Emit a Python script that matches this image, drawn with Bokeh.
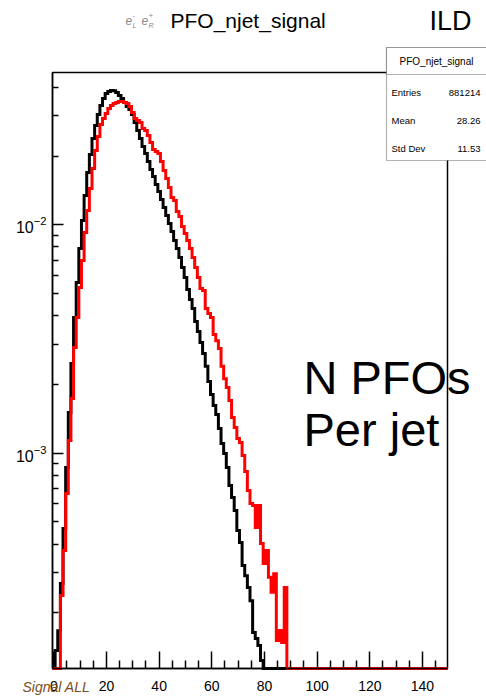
import numpy as np
from bokeh.plotting import figure
from bokeh.models import Range1d, FixedTicker, Label, BoxAnnotation, LinearAxis, LogAxis
from bokeh.embed import file_html
from bokeh.resources import INLINE

# Normalised bin contents, unit-width bins centred on 0, 1, 2, ...
BLACK = [
    0.0, 1.37e-4, 1.67e-4, 2.69e-4, 4.68e-4, 8.66e-4, 1.508e-3, 2.47e-3, 3.93e-3, 5.59e-3,
    7.87e-3, 1.044e-2, 1.343e-2, 1.694e-2, 2.032e-2, 2.386e-2, 2.721e-2, 3.04e-2, 3.329e-2, 3.573e-2,
    3.758e-2, 3.834e-2, 3.873e-2, 3.86e-2, 3.796e-2, 3.682e-2, 3.573e-2, 3.432e-2, 3.296e-2, 3.197e-2,
    3.04e-2, 2.805e-2, 2.588e-2, 2.386e-2, 2.202e-2, 2.052e-2, 1.892e-2, 1.746e-2, 1.628e-2, 1.501e-2,
    1.399e-2, 1.291e-2, 1.191e-2, 1.098e-2, 1.013e-2, 9.35e-3, 8.54e-3, 7.87e-3, 7.19e-3, 6.5e-3,
    5.88e-3, 5.21e-3, 4.71e-3, 4.3e-3, 3.77e-3, 3.41e-3, 3.05e-3, 2.73e-3, 2.4e-3, 2.06e-3,
    1.807e-3, 1.618e-3, 1.477e-3, 1.283e-3, 1.103e-3, 9.97e-4, 8.66e-4, 7.22e-4, 6.4e-4, 5.61e-4,
    4.59e-4, 4.06e-4, 3.22e-4, 2.91e-4, 2.58e-4, 2.26e-4, 1.64e-4, 1.544e-4, 1.439e-4, 1.237e-4,
]
RED = [
    0.0, 0.0, 0.0, 2.38e-4, 3.75e-4, 6.66e-4, 1.137e-3, 1.736e-3, 2.9e-3, 3.927e-3,
    5.31e-3, 6.98e-3, 9.25e-3, 1.155e-2, 1.442e-2, 1.764e-2, 2.115e-2, 2.435e-2, 2.748e-2, 2.92e-2,
    3.071e-2, 3.229e-2, 3.329e-2, 3.397e-2, 3.432e-2, 3.465e-2, 3.47e-2, 3.432e-2, 3.397e-2, 3.296e-2,
    3.102e-2, 2.92e-2, 2.862e-2, 2.805e-2, 2.64e-2, 2.588e-2, 2.46e-2, 2.293e-2, 2.137e-2, 2.094e-2,
    2.052e-2, 1.892e-2, 1.728e-2, 1.594e-2, 1.457e-2, 1.317e-2, 1.278e-2, 1.143e-2, 1.087e-2, 9.83e-3,
    9.16e-3, 8.54e-3, 7.87e-3, 7.19e-3, 6.5e-3, 5.88e-3, 5.26e-3, 5.16e-3, 4.3e-3, 4.09e-3,
    3.93e-3, 3.31e-3, 3.11e-3, 2.87e-3, 2.4e-3, 2.12e-3, 1.939e-3, 1.701e-3, 1.433e-3, 1.296e-3,
    1.16e-3, 1.114e-3, 9.77e-4, 8.32e-4, 6.87e-4, 6.02e-4, 5.91e-4, 4.73e-4, 5.9e-4, 4.02e-4,
    3.29e-4, 3.75e-4, 2.86e-4, 2.46e-4, 2.97e-4, 1.513e-4, 1.674e-4, 1.483e-4, 2.58e-4,
]
N_BINS = 150

HIST_NAME = "PFO_njet_signal"
ENTRIES = 881214
MEAN = 28.26
STD_DEV = 11.53

X_MAJOR = [0, 20, 40, 60, 80, 100, 120, 140]
X_MINOR = [5 * k for k in range(30) if k % 4]
Y_MAJOR = [1e-3, 1e-2]
Y_MINOR = [m * 10.0 ** e for e in (-4, -3, -2) for m in range(2, 10)]

# canvas and histogram-frame geometry (pixels)
W, H = 486, 696
FL, FR, FT, FB = 52, 447, 72, 668
X_LO, X_HI = -0.5, 149.5
LOG_TOP, LOG_BOT = -1.3332, -3.9426
Y_LO, Y_HI = 10 ** LOG_BOT, 10 ** LOG_TOP
FONT = "Liberation Sans"


def sx(px):
    return X_LO + (px - FL) * (X_HI - X_LO) / (FR - FL)


def sy(py):
    return 10 ** (LOG_TOP - (py - FT) * (LOG_TOP - LOG_BOT) / (FB - FT))


# the plotting area spans the whole canvas; the histogram frame sits inside it
p = figure(
    width=W, height=H, title=None,
    x_range=Range1d(sx(0), sx(W)),
    y_range=Range1d(sy(H), sy(0)),
    y_axis_type="log",
    x_axis_location=None, y_axis_location=None,
    output_backend="svg", toolbar_location=None,
    min_border=0,
)
p.background_fill_color = "white"
p.border_fill_color = "white"
p.outline_line_color = None
p.xgrid.visible = False
p.ygrid.visible = False

y_minor_in_frame = [t for t in Y_MINOR if Y_LO <= t <= Y_HI]
xaxis = LinearAxis(fixed_location=Y_LO, bounds=(X_LO, X_HI),
                   ticker=FixedTicker(ticks=X_MAJOR, minor_ticks=X_MINOR))
yaxis = LogAxis(fixed_location=X_LO, bounds=(Y_LO, Y_HI),
                ticker=FixedTicker(ticks=Y_MAJOR, minor_ticks=y_minor_in_frame))
for ax in (xaxis, yaxis):
    ax.axis_line_width = 1.5
    ax.major_tick_out = 0
    ax.minor_tick_out = 0
    ax.major_tick_line_width = 1.5
    ax.minor_tick_line_width = 1.5
    ax.major_label_text_font = FONT
    ax.major_label_text_color = "black"
xaxis.major_tick_in = 17
xaxis.minor_tick_in = 8
xaxis.major_label_standoff = 12
xaxis.major_label_text_font_size = "14px"
yaxis.major_tick_in = 11
yaxis.minor_tick_in = 6
yaxis.major_label_standoff = 6
yaxis.major_label_text_font_size = "16px"
p.add_layout(xaxis, "below")
p.add_layout(yaxis, "left")

# histogram frame
p.quad(left=[X_LO], right=[X_HI], bottom=[Y_LO], top=[Y_HI],
       fill_color=None, line_color="black", line_width=1.5)


def hist_steps(values, color):
    v = np.zeros(N_BINS)
    v[: len(values)] = values
    v = np.where(v > 0, v, Y_LO)
    edges = np.arange(N_BINS + 1) - 0.5
    ys = np.append(v, v[-1])
    p.step(edges, ys, mode="after", line_color=color, line_width=3, line_join="miter")


hist_steps(BLACK, "black")
hist_steps(RED, "#ff0000")


def add_text(px, py, text, size, align="left", color="black", style="normal", baseline="middle"):
    p.add_layout(Label(
        x=sx(px), y=sy(py), text=text, text_font=FONT, text_font_size=f"{size}px",
        text_align=align, text_baseline=baseline, text_color=color, text_font_style=style,
    ))


# statistics box
p.add_layout(BoxAnnotation(left=sx(386), right=sx(492), top=sy(47), bottom=sy(160),
                           fill_color="white", fill_alpha=1.0, line_color="black", line_width=1.2))
p.add_layout(BoxAnnotation(left=sx(386), right=sx(492), top=sy(47), bottom=sy(74),
                           fill_color="white", fill_alpha=1.0, line_color="black", line_width=1.2))
add_text(436, 61, HIST_NAME, 10, align="center")
add_text(391, 92, "Entries", 9.5)
add_text(480, 92, f"{ENTRIES}", 9.5, align="right")
add_text(391, 120, "Mean", 9.5)
add_text(480, 120, f"{MEAN:.2f}", 9.5, align="right")
add_text(391, 148, "Std Dev", 9.5)
add_text(480, 148, f"{STD_DEV:.2f}", 9.5, align="right")

# title line
add_text(170, 20, HIST_NAME, 21)
add_text(429, 20, "ILD", 27)
grey = "#8a8a8a"
add_text(125, 20, "e", 12, color=grey, style="italic")
add_text(132, 15, "-", 8, color=grey)
add_text(132, 25, "L", 7, color=grey, style="italic")
add_text(141, 20, "e", 12, color=grey, style="italic")
add_text(148, 15, "+", 8, color=grey)
add_text(148, 25, "R", 7, color=grey, style="italic")

# caption inside the frame
add_text(303, 377, "N PFOs", 47, baseline="alphabetic")
add_text(303, 429, "Per jet", 47, baseline="alphabetic")

# sample tag
add_text(22, 686, "Signal ALL", 14, color="#7a4f1c", style="italic")

open("out.html", "w").write(file_html(p, INLINE))
